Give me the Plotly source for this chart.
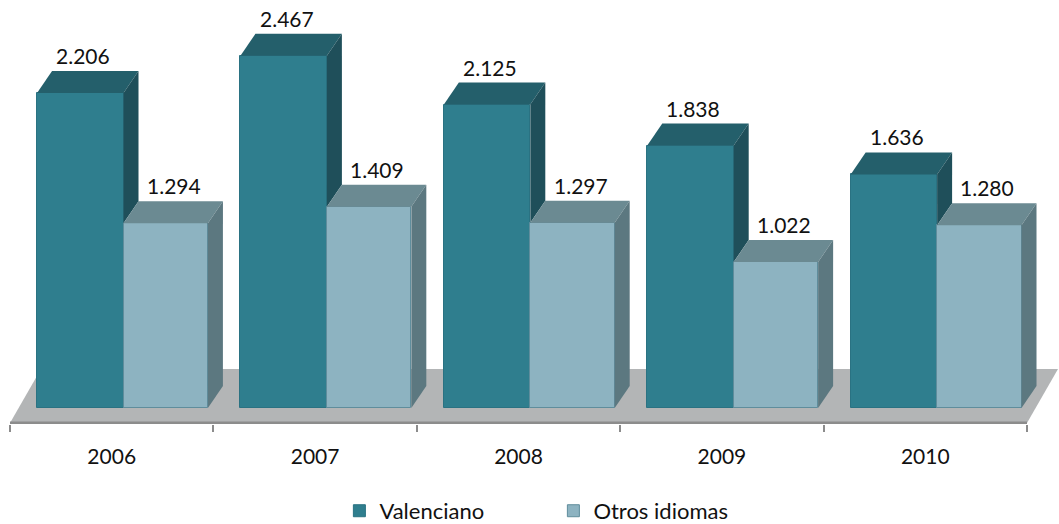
import plotly.graph_objects as go

# ---- data ----
years = ["2006", "2007", "2008", "2009", "2010"]
valenciano = [2.206, 2.467, 2.125, 1.838, 1.636]
otros = [1.294, 1.409, 1.297, 1.022, 1.280]
series_names = ["Valenciano", "Otros idiomas"]
value_labels_v = ["2.206", "2.467", "2.125", "1.838", "1.636"]
value_labels_o = ["1.294", "1.409", "1.297", "1.022", "1.280"]

# ---- style / geometry ----
FONT = "Lato"
FS = 21
V_FRONT, V_TOP, V_SIDE = "#2f7e8e", "#245f6b", "#1f4f5a"
O_FRONT, O_TOP, O_SIDE = "#8db3c1", "#6b8a92", "#5c7880"
FLOOR, FLOOR_EDGE = "#b3b5b6", "#8c8c8c"

PX_X = 203.4          # px per category
PX_Y = 142.8          # px per unit
DX = 15 / PX_X        # bar depth offset (x)
DY = 22 / PX_Y        # bar depth offset (y)
FDX = 31 / PX_X       # floor depth offset
FDY = 54 / PX_Y
FLOOR_FRONT = -15 / PX_Y

V_OFF, V_W = -0.367, 0.425
O_OFF, O_W = 0.058, 0.415

xs = list(range(len(years)))

fig = go.Figure()
fig.add_trace(go.Bar(x=xs, y=valenciano, name=series_names[0], offset=V_OFF, width=V_W,
                     marker=dict(color=V_FRONT, line=dict(color="#2a7282", width=1)),
                     hoverinfo="skip"))
fig.add_trace(go.Bar(x=xs, y=otros, name=series_names[1], offset=O_OFF, width=O_W,
                     marker=dict(color=O_FRONT, line=dict(color="#5f8d9c", width=1)),
                     hoverinfo="skip"))

shapes = []

def poly(pts, color, layer="above"):
    path = "M " + " L ".join(f"{x},{y}" for x, y in pts) + " Z"
    return dict(type="path", path=path, xref="x", yref="y", fillcolor=color,
                line=dict(width=0), layer=layer)

# floor
shapes.append(poly([(-0.5, FLOOR_FRONT), (-0.5 + FDX, FLOOR_FRONT + FDY),
                    (4.5 + FDX, FLOOR_FRONT + FDY), (4.5, FLOOR_FRONT)], FLOOR, "below"))
shapes.append(dict(type="line", xref="x", yref="y", x0=-0.5, x1=4.5,
                   y0=FLOOR_FRONT, y1=FLOOR_FRONT, line=dict(color=FLOOR_EDGE, width=3),
                   layer="below"))

annotations = []
for i, (v, o) in enumerate(zip(valenciano, otros)):
    vx0, vx1 = i + V_OFF, i + V_OFF + V_W
    ox0, ox1 = i + O_OFF, i + O_OFF + O_W
    shapes.append(poly([(vx0, v), (vx0 + DX, v + DY), (vx1 + DX, v + DY), (vx1, v)], V_TOP))
    shapes.append(poly([(vx1, v), (vx1 + DX, v + DY), (vx1 + DX, o + DY), (vx1, o)], V_SIDE))
    shapes.append(poly([(ox0, o), (ox0 + DX, o + DY), (ox1 + DX, o + DY), (ox1, o)], O_TOP))
    shapes.append(poly([(ox1, 0), (ox1, o), (ox1 + DX, o + DY), (ox1 + DX, DY)], O_SIDE))
    annotations.append(dict(x=(vx0 + vx1) / 2, y=v + DY, text=value_labels_v[i],
                            showarrow=False, yanchor="bottom", xshift=3, yshift=1,
                            font=dict(family=FONT, size=FS, color="#111")))
    annotations.append(dict(x=(ox0 + ox1) / 2, y=o + DY, text=value_labels_o[i],
                            showarrow=False, yanchor="bottom", xshift=8, yshift=1,
                            font=dict(family=FONT, size=FS, color="#111")))

fig.update_layout(
    width=1059, height=524, autosize=False,
    margin=dict(l=10, r=0, t=0, b=100, autoexpand=False),
    paper_bgcolor="white", plot_bgcolor="white",
    barmode="overlay", bargap=0,
    shapes=shapes, annotations=annotations,
    font=dict(family=FONT, size=FS, color="#111"),
    showlegend=True,
    legend=dict(orientation="h", x=0.314, xanchor="left", y=-0.205, yanchor="middle",
                font=dict(family=FONT, size=22, color="#111"), entrywidth=169,
                itemclick=False, bgcolor="rgba(0,0,0,0)"),
    xaxis=dict(range=[-0.5, -0.5 + 1049 / PX_X], tickmode="array", tickvals=xs,
               ticktext=years, showgrid=False, zeroline=False, showline=False,
               ticks="outside", ticklen=14, tickcolor="rgba(0,0,0,0)",
               tickfont=dict(family=FONT, size=FS, color="#111"),
               minor=dict(tickmode="array", tickvals=[i - 0.5 for i in range(len(years) + 1)],
                          ticks="outside", ticklen=7, tickcolor=FLOOR_EDGE, tickwidth=2,
                          showgrid=False)),
    yaxis=dict(range=[-16 / PX_Y, 408 / PX_Y], visible=False, showgrid=False),
)

fig.write_html("out.html", config={"displayModeBar": False},
               post_script="document.body.style.margin='0';document.body.style.overflow='hidden';")
